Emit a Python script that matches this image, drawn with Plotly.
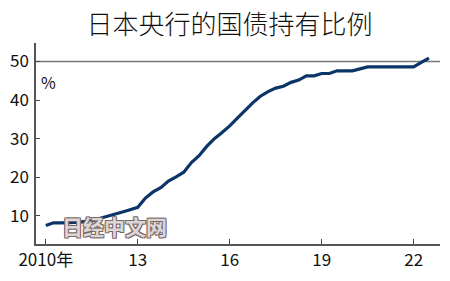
import plotly.graph_objects as go

years = [2010.0, 2010.25, 2010.5, 2010.75, 2011.0, 2011.25, 2011.5, 2011.75,
         2012.0, 2012.25, 2012.5, 2012.75, 2013.0, 2013.25, 2013.5, 2013.75,
         2014.0, 2014.25, 2014.5, 2014.75, 2015.0, 2015.25, 2015.5, 2015.75,
         2016.0, 2016.25, 2016.5, 2016.75, 2017.0, 2017.25, 2017.5, 2017.75,
         2018.0, 2018.25, 2018.5, 2018.75, 2019.0, 2019.25, 2019.5, 2019.75,
         2020.0, 2020.25, 2020.5, 2020.75, 2021.0, 2021.25, 2021.5, 2021.75,
         2022.0, 2022.25, 2022.5]
share = [7.5, 8.2, 8.2, 8.2, 8.3, 8.5, 8.7, 9.3,
         9.8, 10.4, 11.0, 11.6, 12.2, 14.6, 16.2, 17.3,
         19.0, 20.1, 21.3, 23.8, 25.6, 28.0, 30.0, 31.6,
         33.3, 35.3, 37.3, 39.3, 41.0, 42.2, 43.1, 43.6,
         44.6, 45.2, 46.3, 46.3, 46.9, 46.9, 47.6, 47.6,
         47.6, 48.1, 48.6, 48.6, 48.6, 48.6, 48.6, 48.6,
         48.6, 49.8, 50.9]

x_tickvals = [2010, 2013, 2016, 2019, 2022]
x_ticktext = ["2010年", "13", "16", "19", "22"]
y_tickvals = [10, 20, 30, 40, 50]

title_text = "日本央行的国债持有比例"
unit_text = "%"
watermark_text = "日经中文网"

FONT = "Noto Sans CJK SC"
W, H = 450, 281
ML, MR, MT, MB = 32, 10, 43, 31

fig = go.Figure()
fig.add_trace(go.Scatter(x=years, y=share, mode="lines",
                         line=dict(color="#0b3468", width=3.2),
                         hoverinfo="skip", showlegend=False))

fig.add_shape(type="line", xref="paper", yref="y", x0=0, x1=1, y0=50, y1=50,
              line=dict(color="#777777", width=1.3), layer="below")

fig.update_layout(
    width=W, height=H,
    margin=dict(l=ML, r=MR, t=MT, b=MB, pad=0),
    paper_bgcolor="white", plot_bgcolor="white",
    font=dict(family=FONT, color="#111111", size=17),
    title=dict(text=title_text, x=0.51, xanchor="center", y=1 - 25 / H, yanchor="middle",
               font=dict(family=FONT, size=26, color="#111111", weight=300)),
    xaxis=dict(range=[2009.68, 2022.86], tickmode="array", tickvals=x_tickvals,
               ticktext=x_ticktext, ticks="inside", ticklen=5, tickwidth=1.2,
               tickcolor="#444444", showline=True, linecolor="#555555", linewidth=1.5,
               showgrid=False, zeroline=False, tickfont=dict(size=17, family=FONT),
               fixedrange=True),
    yaxis=dict(range=[2.7, 54.8], tickmode="array", tickvals=y_tickvals,
               ticks="inside", ticklen=4, tickwidth=1.2, tickcolor="#444444",
               showline=True, linecolor="#555555", linewidth=1.5,
               showgrid=False, zeroline=False, tickfont=dict(size=17, family=FONT),
               ticklabelstandoff=2, fixedrange=True),
    annotations=[
        dict(text=unit_text, xref="paper", yref="paper",
             x=(45 - ML) / (W - ML - MR), y=1 - (83 - MT) / (H - MT - MB),
             xanchor="center", yanchor="middle", showarrow=False,
             font=dict(family=FONT, size=16, color="#111111")),
        dict(text="<b>" + watermark_text + "</b>", xref="paper", yref="paper",
             x=(111 - ML) / (W - ML - MR), y=1 - (231 - MT) / (H - MT - MB),
             xanchor="center", yanchor="middle", showarrow=False,
             font=dict(family=FONT, size=21, color="#dcd6d6",
                       shadow="1px 1px 0 #7a6a6a, -1px -1px 0 #7a6a6a, 1px -1px 0 #7a6a6a, -1px 1px 0 #7a6a6a")),
    ],
)

fig.write_html("out.html")
